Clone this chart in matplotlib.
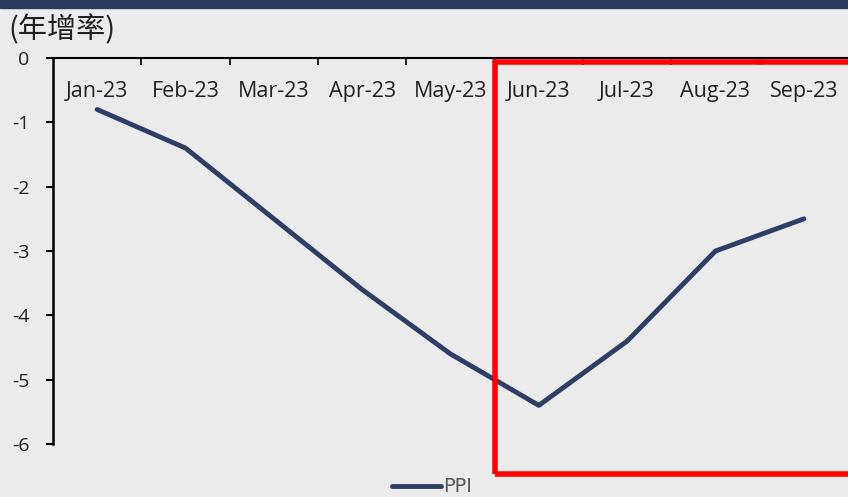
import matplotlib.pyplot as plt
from matplotlib.patches import Rectangle

months = ["Jan-23", "Feb-23", "Mar-23", "Apr-23", "May-23", "Jun-23", "Jul-23", "Aug-23", "Sep-23"]
ppi = [-0.8, -1.4, -2.5, -3.6, -4.6, -5.4, -4.4, -3.0, -2.5]
yticks = [0, -1, -2, -3, -4, -5, -6]

bg = "#ebebeb"
navy = "#2f3e64"

fig = plt.figure(figsize=(8.48, 4.97), dpi=100, facecolor=bg)
ax = fig.add_axes([53/848, 1-444/497, 1-53/848, (444-58)/497])
ax.set_facecolor(bg)

x = list(range(len(months)))
line, = ax.plot(x, ppi, color=navy, lw=3.5, solid_capstyle="round", label="PPI")

ax.set_xlim(-0.5, len(months) - 0.5)
ax.set_ylim(-6, 0)

# y axis
ax.set_yticks(yticks)
ax.set_yticklabels([str(v) for v in yticks], fontsize=14, color="#222222", family="Open Sans")
ax.tick_params(axis="y", direction="out", length=5, width=1.5, pad=12)

# x axis on top, labels inside
ax.xaxis.set_ticks_position("top")
ax.set_xticks(x)
ax.set_xticklabels(months, fontsize=15.5, color="#222222", family="Open Sans")
ax.tick_params(axis="x", which="major", length=0, pad=-32)
ax.set_xticks([i + 0.5 for i in x[:-1]], minor=True)
ax.tick_params(axis="x", which="minor", direction="in", length=5, width=1.2, top=True, bottom=False)

for s in ["right", "bottom"]:
    ax.spines[s].set_visible(False)
ax.spines["top"].set_linewidth(1.5)
ax.spines["left"].set_linewidth(1.8)

# highlight box
ax.add_patch(Rectangle((4.5, -6.47), 4.2, 6.41, fill=False, edgecolor="#ff0000",
                       lw=4, clip_on=False, zorder=5))

# top bar
fig.add_artist(Rectangle((0, 1 - 8/497), 1, 8/497, transform=fig.transFigure,
                         color="#2b3a5e", zorder=10))

fig.text(8/848, 1 - 30/497, "(年增率)", fontsize=21, va="center", ha="left",
         family=["Noto Sans CJK TC", "DejaVu Sans"], color="#222222")

leg = fig.legend(handles=[line], loc="center", bbox_to_anchor=(432/848, 1 - 487/497),
                 frameon=False, fontsize=14, handlelength=2.5, handletextpad=0.1,
                 labelcolor="#595959")

fig.savefig("out.png", dpi=100, facecolor=bg)
